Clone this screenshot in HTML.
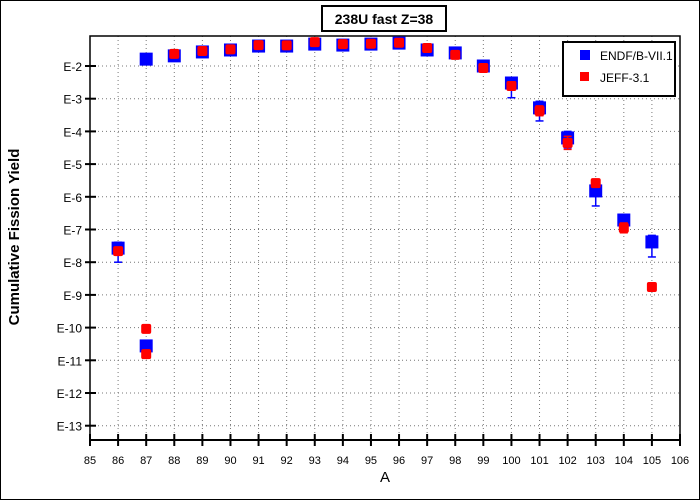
<!DOCTYPE html>
<html><head><meta charset="utf-8"><style>
body{margin:0;background:#fff;}
svg{display:block;font-family:"Liberation Sans",sans-serif;}
</style></head><body>
<svg id="chart" width="700" height="500" xmlns="http://www.w3.org/2000/svg">
<rect x="0.5" y="0.5" width="699" height="499" fill="#fff" stroke="#000"/>
<g id="grid"></g>
<g id="axes"></g>
<g id="marks"></g>
<g>
<rect x="322" y="6" width="124" height="25" fill="#fff" stroke="#000" stroke-width="2"/>
<text x="384" y="24" text-anchor="middle" font-size="14" font-weight="bold">238U fast Z=38</text>
</g>
<text transform="translate(19,237) rotate(-90)" text-anchor="middle" font-size="15" font-weight="bold">Cumulative Fission Yield</text>
<text x="385" y="482" text-anchor="middle" font-size="15">A</text>
<g>
<rect x="563" y="42" width="112" height="54" fill="#fff" stroke="#000" stroke-width="2"/>
<rect x="580" y="50" width="10" height="10" fill="#0000ff"/>
<text x="600" y="60" font-size="12">ENDF/B-VII.1</text>
<rect x="580" y="72" width="9" height="9" fill="#ff0000"/>
<text x="600" y="82" font-size="12">JEFF-3.1</text>
</g>
</svg>
<script>
const massNumbers=[86,87,88,89,90,91,92,93,94,95,96,97,98,99,100,101,102,103,104,105];
const endfLog=[-7.57,-10.56,-1.69,-1.57,-1.51,-1.39,-1.39,-1.33,-1.36,-1.33,-1.30,-1.51,-1.60,-2.0,-2.52,-3.28,-4.20,-5.82,-6.71,-7.38];
const endfErrUp=[0.18,0.15,0.03,0.03,0.03,0.03,0.03,0.03,0.03,0.03,0.03,0.04,0.05,0.1,0.15,0.2,0.2,0.3,0.15,0.2];
const endfErrDn=[0.43,0.2,0.03,0.03,0.03,0.03,0.03,0.03,0.03,0.03,0.03,0.04,0.05,0.15,0.45,0.4,0.3,0.46,0.3,0.46];
const jeffLog=[-7.66,-10.81,-1.63,-1.54,-1.49,-1.36,-1.37,-1.27,-1.33,-1.32,-1.29,-1.45,-1.66,-2.06,-2.61,-3.37,-4.35,-5.58,-6.95,-8.76];
const jeffErr=[0.08,0.12,0.03,0.03,0.03,0.03,0.03,0.03,0.03,0.03,0.03,0.04,0.05,0.12,0.12,0.15,0.2,0.12,0.15,0.1];
const extraA=[87];
const extraLog=[-10.04];
const extraEndfA=[87];
const extraEndfLog=[-1.79];
const yTicks=[-2,-3,-4,-5,-6,-7,-8,-9,-10,-11,-12,-13];
const xTicks=[85,86,87,88,89,90,91,92,93,94,95,96,97,98,99,100,101,102,103,104,105,106];
const NS="http://www.w3.org/2000/svg";
const X0=90,X1=680,Y0=36,Y1=440;
function xs(a){return X0+(a-85)*(X1-X0)/21;}
function ys(e){return 66+(-2-e)*32.7;}
function mk(tag,attrs,parent){const el=document.createElementNS(NS,tag);for(const k in attrs)el.setAttribute(k,attrs[k]);parent.appendChild(el);return el;}
const grid=document.getElementById('grid'),axes=document.getElementById('axes'),marks=document.getElementById('marks');
xTicks.forEach(t=>{if(t>85&&t<106){const l=mk('line',{x1:xs(t),x2:xs(t),y1:Y0,y2:Y1,stroke:'#777','stroke-dasharray':'1,3'},grid);}
 const tk=mk('line',{x1:xs(t),x2:xs(t),y1:434,y2:446,stroke:'#000','stroke-width':2},axes);
 const tx=mk('text',{x:xs(t),y:464,'text-anchor':'middle','font-size':11},axes);tx.textContent=t;});
yTicks.forEach(t=>{const y=ys(t);const l=mk('line',{x1:X0,x2:X1,y1:y,y2:y,stroke:'#777','stroke-dasharray':'1,3'},grid);
 const tk=mk('line',{x1:85,x2:96,y1:y,y2:y,stroke:'#000','stroke-width':2},axes);
 const tx=mk('text',{x:82,y:y+5,'text-anchor':'end','font-size':12},axes);tx.textContent='E'+t;});
const fr=mk('rect',{x:X0,y:Y0,width:X1-X0,height:Y1-Y0,fill:'none',stroke:'#000','stroke-width':1.5},axes);
const xl=mk('line',{x1:X0,x2:X1,y1:Y1,y2:Y1,stroke:'#000','stroke-width':2},axes);
function errbar(a,e,up,dn,col){const x=xs(a);const g=mk('g',{stroke:col,'stroke-width':1.5},marks);
 mk('line',{x1:x,x2:x,y1:ys(e+up),y2:ys(e-dn)},g);mk('line',{x1:x-4,x2:x+4,y1:ys(e+up),y2:ys(e+up)},g);mk('line',{x1:x-4,x2:x+4,y1:ys(e-dn),y2:ys(e-dn)},g);}
massNumbers.forEach((a,i)=>{errbar(a,endfLog[i],endfErrUp[i],endfErrDn[i],'#0000ff');});
massNumbers.forEach((a,i)=>{const r=mk('rect',{x:xs(a)-6.5,y:ys(endfLog[i])-6.5,width:13,height:13,fill:'#0000ff'},marks);});
extraEndfA.forEach((a,i)=>{const r=mk('rect',{x:xs(a)-6.5,y:ys(extraEndfLog[i])-6.5,width:13,height:13,fill:'#0000ff'},marks);});
massNumbers.forEach((a,i)=>{errbar(a,jeffLog[i],jeffErr[i],jeffErr[i],'#ff0000');});
massNumbers.forEach((a,i)=>{const r=mk('rect',{x:xs(a)-5,y:ys(jeffLog[i])-5,width:10,height:10,rx:2,fill:'#ff0000'},marks);});
extraA.forEach((a,i)=>{errbar(a,extraLog[i],0.08,0.08,'#ff0000');const r=mk('rect',{x:xs(a)-5,y:ys(extraLog[i])-5,width:10,height:10,rx:2,fill:'#ff0000'},marks);});
</script>
</body></html>
